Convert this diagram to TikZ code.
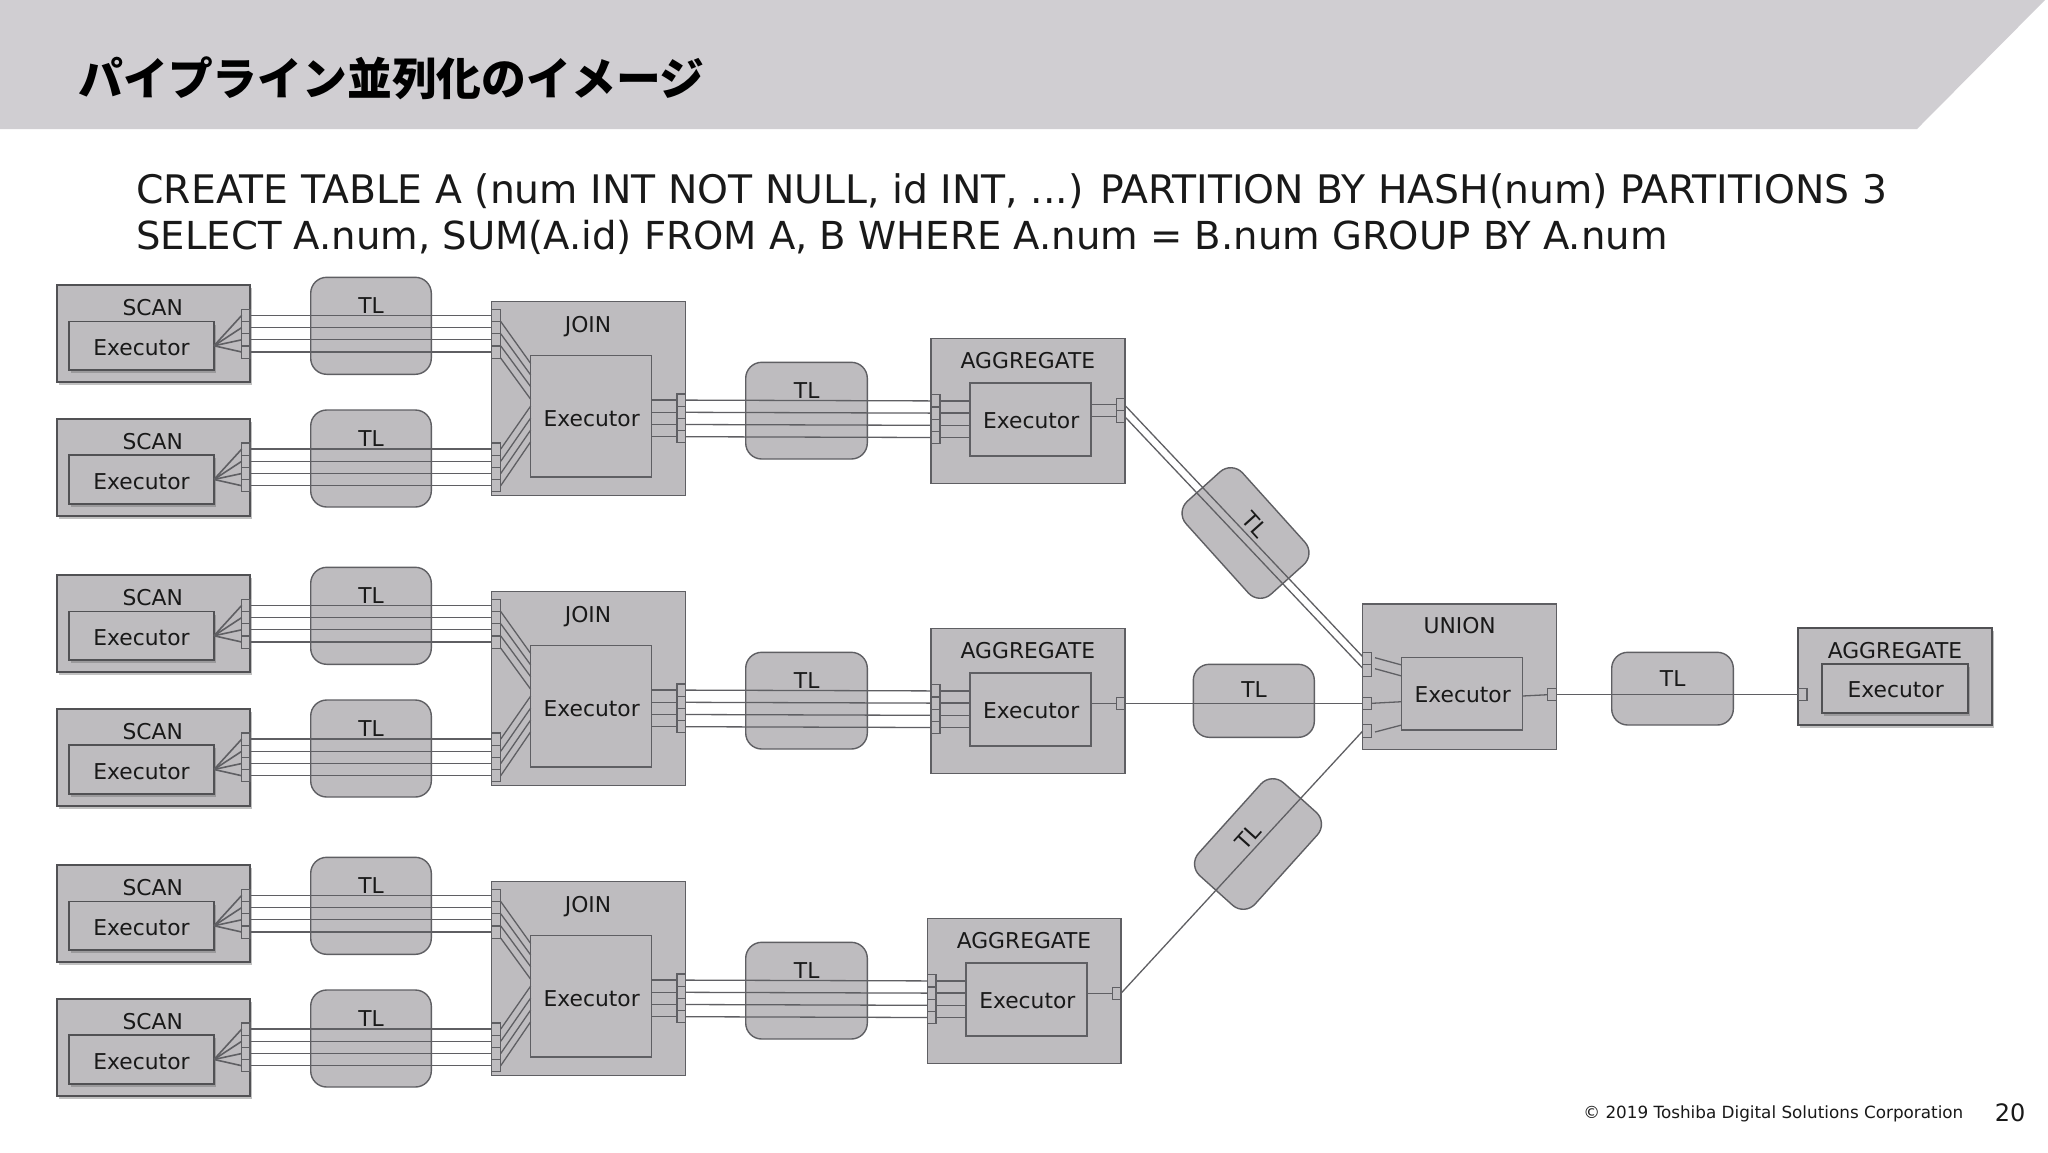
\documentclass[tikz,border=0pt]{standalone}
\usepackage{fontspec}
\setmainfont{DejaVu Sans}
\newfontfamily\cjk{Noto Sans CJK JP}
\usetikzlibrary{calc,shadows}
\definecolor{hdr}{HTML}{D0CED2}
\definecolor{boxc}{HTML}{BEBCBF}
\definecolor{edge}{HTML}{5F5F63}
\tikzset{
  x=0.5pt,y=-0.5pt,
  box/.style={draw=edge,fill=boxc,line width=0.75pt,inner sep=0pt,outer sep=0pt},
  shadowbox/.style={box,draw=edge!85!black,line width=0.9pt,drop shadow={shadow xshift=1pt,shadow yshift=-1.5pt,opacity=.4,fill=black!60}},
  tlbox/.style={box,rounded corners=8pt,line width=0.7pt},
  port/.style={box,line width=0.6pt},
  wire/.style={draw=edge,line width=0.65pt},
  lbl/.style={inner sep=0pt,outer sep=0pt,font=\fontsize{10.9}{12}\selectfont,text=black!90},
}
% box from corners
\newcommand\bx[6][box]{%
  \pgfmathsetmacro\bcx{((#3)+(#5))/2}\pgfmathsetmacro\bcy{((#4)+(#6))/2}%
  \pgfmathsetmacro\bw{((#5)-(#3))*0.5}\pgfmathsetmacro\bh{((#6)-(#4))*0.5}%
  \node[#1,minimum width=\bw pt,minimum height=\bh pt] (#2) at (\bcx,\bcy) {};}
% four stacked ports
\newcommand\fourports[4]{% prefix, x1, y1, x2
  \bx[port]{#11}{#2}{#3}{#4}{#3+12.2}%
  \bx[port]{#12}{#2}{#3+12.2}{#4}{#3+24.4}%
  \bx[port]{#13}{#2}{#3+24.4}{#4}{#3+36.6}%
  \bx[port]{#14}{#2}{#3+36.6}{#4}{#3+48.8}}
% scan unit: name, top y
\newcommand\scanunit[2]{%
  \bx[shadowbox]{#1}{56.7}{#2}{250}{#2+97}%
  \bx[shadowbox]{#1x}{69}{#2+36.5}{214}{#2+85}%
  \pgfmathsetmacro\ty{#2+23}\pgfmathsetmacro\ey{#2+62.5}%
  \node[lbl] (#1t) at (152.7,\ty) {SCAN};
  \node[lbl] (#1e) at (141.5,\ey) {Executor};
  \fourports{#1p}{241.7}{#2+24.3}{250}%
  \foreach \i in {1,2,3,4} {\draw[wire,line width=0.8pt] (#1x.east) -- (#1p\i.west);}}

\begin{document}
\begin{tikzpicture}
\useasboundingbox (0,0) rectangle (2048,1152);
\fill[white] (0,0) rectangle (2048,1152);
\fill[hdr] (0,0) -- (2045,0) -- (1917,129) -- (0,129) -- cycle;
\node[anchor=west,inner sep=0pt,font=\cjk\bfseries\fontsize{22.4}{26}\selectfont] (title) at (78,78) {パイプライン並列化のイメージ};
\node[anchor=west,inner sep=0pt,font=\fontsize{19.66}{24}\selectfont,text=black!90] (sql1) at (136,191) {CREATE TABLE A (num INT NOT NULL, id INT, ...) PARTITION BY HASH(num) PARTITIONS 3};
\node[anchor=west,inner sep=0pt,font=\fontsize{19.28}{24}\selectfont,text=black!90] (sql2) at (136,237) {SELECT A.num, SUM(A.id) FROM A, B WHERE A.num = B.num GROUP BY A.num};

\foreach \r/\d/\ax in {1/0/931.2,2/290/931.2,3/580/927.3} {
  \pgfmathsetmacro\sa{285+\d}\pgfmathsetmacro\sb{418.7+\d}
  \scanunit{sa\r}{\sa}
  \scanunit{sb\r}{\sb}
  % TL boxes between scan and join
  \pgfmathsetmacro\ta{277.3+\d}\pgfmathsetmacro\tb{410+\d}
  \pgfmathsetmacro\tta{305.3+\d}\pgfmathsetmacro\ttb{438.3+\d}
  \bx[tlbox]{tla\r}{310.7}{\ta}{431.3}{\ta+97}
  \node[lbl] (tla\r t) at (371,\tta) {TL};
  \bx[tlbox]{tlb\r}{310.7}{\tb}{431.3}{\tb+97}
  \node[lbl] (tlb\r t) at (371,\ttb) {TL};
  % JOIN
  \pgfmathsetmacro\ja{301.7+\d}
  \bx{j\r}{491.7}{\ja}{685.7}{\ja+193.6}
  \bx{jx\r}{530.7}{\ja+54}{651.7}{\ja+175.3}
  \pgfmathsetmacro\jty{326.5+\d}\pgfmathsetmacro\jey{418.3+\d}
  \node[lbl] (j\r t) at (588,\jty) {JOIN};
  \node[lbl] (jx\r t) at (591.7,\jey) {Executor};
  \fourports{jia\r}{491.7}{309.3+\d}{500.7}
  \fourports{jib\r}{491.7}{443+\d}{500.7}
  \fourports{jo\r}{677}{394+\d}{685.7}
  % mid TL
  \pgfmathsetmacro\tm{362.3+\d}\pgfmathsetmacro\tmy{390.3+\d}
  \bx[tlbox]{tlm\r}{745.7}{\tm}{867.3}{\tm+96.7}
  \node[lbl] (tlm\r t) at (806.7,\tmy) {TL};
  % AGGREGATE
  \pgfmathsetmacro\ga{338.3+\d}
  \bx{g\r}{\ax}{\ga}{\ax+193.7}{\ga+145.4}
  \bx{gx\r}{\ax+38.7}{\ga+44.7}{\ax+159.7}{\ga+117.7}
  \pgfmathsetmacro\gtx{\ax+96.7}\pgfmathsetmacro\gty{360.7+\d}
  \pgfmathsetmacro\gex{\ax+100}\pgfmathsetmacro\gey{420.7+\d}
  \node[lbl] (g\r t) at (\gtx,\gty) {AGGREGATE};
  \node[lbl] (gx\r t) at (\gex,\gey) {Executor};
  \fourports{gi\r}{\ax}{394.8+\d}{\ax+8.7}
  \foreach \i in {1,2,3,4} {
    \draw[wire] (sa\r p\i.east) -- (jia\r\i.west);
    \draw[wire] (sb\r p\i.east) -- (jib\r\i.west);
    \draw[wire] (jo\r\i.west) -- (jx\r.east |- jo\r\i.west);
    \draw[wire] (jo\r\i.east) -- (gi\r\i.west);
    \draw[wire] (gi\r\i.east) -- (gx\r.west |- gi\r\i.east);
  }
  % join inner fan
  \foreach \i/\off in {1/7.8,2/19.3,3/31,4/43.6} {
    \draw[wire] (jia\r\i.south east) -- ($(jx\r.north west)+(0,\off)$);
  }
  \foreach \i/\off in {1/50.3,2/62.3,3/74.3,4/86} {
    \draw[wire] (jib\r\i.east) -- ($(jx\r.north west)+(0,\off)$);
  }
}

% right-hand TL boxes
\node[tlbox,rotate=-48,minimum width=62.5pt,minimum height=38pt] (tlr1) at (1245.5,533) {};
\node[lbl,rotate=-48] (tlr1t) at (1255,525) {TL};
\bx[tlbox]{tlr2}{1193.3}{664.3}{1314.3}{737.3}
\node[lbl] (tlr2t) at (1254,690) {TL};
\node[tlbox,rotate=48,minimum width=62.5pt,minimum height=38pt] (tlr3) at (1258,844) {};
\node[lbl,rotate=48] (tlr3t) at (1247.7,836.7) {TL};
\bx[tlbox]{tlu}{1611.7}{652.3}{1733.3}{725}
\node[lbl] (tlut) at (1672.7,678.3) {TL};

% aggregate output ports
\bx[port]{go1a}{1116.3}{398.3}{1125}{410.5}
\bx[port]{go1b}{1116.3}{410.5}{1125}{422.7}
\bx[port]{go2}{1116.3}{697.3}{1125}{709.3}
\bx[port]{go3}{1112.3}{987.3}{1121}{999.3}
\draw[wire] (go1a.west) -- (gx1.east |- go1a.west);
\draw[wire] (go1b.west) -- (gx1.east |- go1b.west);
\draw[wire] (go2.west) -- (gx2.east |- go2.west);
\draw[wire] (go3.west) -- (gx3.east |- go3.west);

% UNION
\bx{un}{1362.7}{604}{1556.7}{749.3}
\bx{unx}{1401.7}{657.3}{1522.7}{730}
\node[lbl] (unt) at (1459.7,626) {UNION};
\node[lbl] (unxt) at (1462.7,694.7) {Executor};
\bx[port]{ui1}{1362.7}{652.7}{1371.7}{664.7}
\bx[port]{ui2}{1362.7}{664.7}{1371.7}{676.7}
\bx[port]{ui3}{1362.7}{697.3}{1371.7}{709.3}
\bx[port]{ui4}{1362.7}{724.7}{1371.7}{737.3}
\bx[port]{uo}{1547.7}{688.7}{1556.7}{700.7}
\draw[wire] ($(ui1.east)+(3.3,-1)$) -- ($(unx.north west)+(0,7.7)$);
\draw[wire] ($(ui2.east)+(3.3,-2)$) -- ($(unx.north west)+(0,18.7)$);
\draw[wire] (ui3.east) -- ($(unx.north west)+(0,44.4)$);
\draw[wire] ($(ui4.east)+(3.3,1)$) -- ($(unx.north west)+(0,67.7)$);
\draw[wire] ($(unx.north east)+(0,38.7)$) -- (uo.west);

% final AGGREGATE
\bx[shadowbox]{gf}{1798.3}{628}{1992}{725.3}
\bx[shadowbox]{gfx}{1822.3}{664.3}{1967.7}{713}
\node[lbl] (gft) at (1895,650.7) {AGGREGATE};
\node[lbl] (gfxt) at (1895.7,690) {Executor};
\bx[port]{gfi}{1798.3}{688.7}{1807}{700.7}

% connectors through the right-hand TL boxes
\draw[wire] ($(go1a.east)+(0,1)$) -- ($(ui1.west)+(0,-2)$);
\draw[wire] ($(go1b.east)+(0,0.3)$) -- ($(ui2.west)+(0,-2.4)$);
\draw[wire] (go2.east) -- (ui3.west);
\draw[wire] (go3.east) -- (ui4.west);
\draw[wire] (uo.east) -- (gfi.west);

% footer
\node[anchor=west,inner sep=0pt,font=\fontsize{8.4}{10}\selectfont,text=black!90] (foot) at (1583,1114) {© 2019 Toshiba Digital Solutions Corporation};
\node[anchor=center,inner sep=0pt,font=\fontsize{12}{14}\selectfont,text=black!90] (pageno) at (2010,1113) {20};
\end{tikzpicture}
\end{document}
